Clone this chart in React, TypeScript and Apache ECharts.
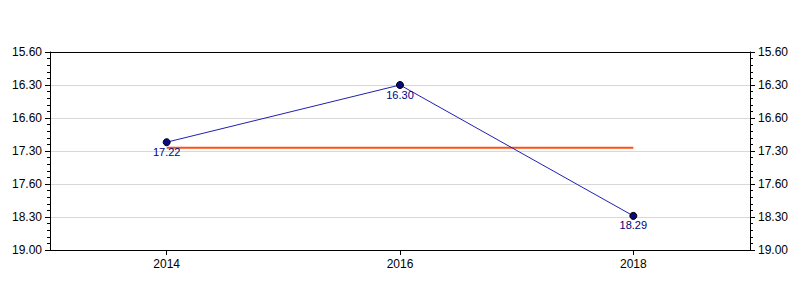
import React, { useEffect, useRef } from "react";
import * as echarts from "echarts";

const categories = ["2014", "2016", "2018"];
// values read as minutes.seconds
const seriesValues = ["17.22", "16.30", "18.29"];
const averageValue = "17.27";
const tickLabels = ["15.60", "16.30", "16.60", "17.30", "17.60", "18.30", "19.00"];
const axisMin = 16;
const axisMax = 19;
const axisInterval = 0.5;

const toMinutes = (s: string) => {
  const [m, sec] = s.split(".");
  return Number(m) + Number(sec) / 60;
};

const fmtTick = (v: number) => {
  const idx = Math.round((v - axisMin) / axisInterval);
  return tickLabels[idx] ?? "";
};

export default function App() {
  const ref = useRef<HTMLDivElement>(null);
  useEffect(() => {
    if (!ref.current) return;
    const chart = echarts.init(ref.current, undefined, { renderer: "svg" });
    const font = "Liberation Sans, Arial, sans-serif";
    const yAxisBase = {
      type: "value" as const,
      inverse: true,
      min: axisMin,
      max: axisMax,
      interval: axisInterval,
      axisLine: { show: true, lineStyle: { color: "#000", width: 1 } },
      axisTick: { show: true, length: 5, lineStyle: { color: "#000" } },
      minorTick: { show: true, splitNumber: 5, length: 3, lineStyle: { color: "#000" } },
      axisLabel: { formatter: fmtTick, color: "#000", fontSize: 12, fontFamily: font, margin: 8 },
    };
    chart.setOption({
      animation: false,
      backgroundColor: "#fff",
      grid: { left: 50, right: 50, top: 52, bottom: 50 },
      xAxis: [
        {
          type: "category",
          data: categories,
          boundaryGap: true,
          axisLine: { show: true, lineStyle: { color: "#000", width: 1 } },
          axisTick: { show: true, alignWithLabel: true, length: 5, lineStyle: { color: "#000" } },
          axisLabel: { color: "#000", fontSize: 12, fontFamily: font, margin: 8 },
          splitLine: { show: false },
        },
        {
          type: "category",
          data: categories,
          position: "top",
          axisLine: { show: true, lineStyle: { color: "#000", width: 1 } },
          axisTick: { show: false },
          axisLabel: { show: false },
          splitLine: { show: false },
        },
      ],
      yAxis: [
        {
          ...yAxisBase,
          position: "left",
          splitLine: { show: true, lineStyle: { color: "#d8d8d8", width: 1 } },
        },
        {
          ...yAxisBase,
          position: "right",
          splitLine: { show: false },
        },
      ],
      series: [
        {
          type: "line",
          data: categories.map(() => toMinutes(averageValue)),
          symbol: "none",
          lineStyle: { color: "#ff5010", width: 2 },
          z: 2,
        },
        {
          type: "line",
          data: seriesValues.map(toMinutes),
          symbol: "circle",
          symbolSize: 7,
          lineStyle: { color: "#2020b0", width: 1 },
          itemStyle: { color: "#0a0a80", borderColor: "#000", borderWidth: 1 },
          label: {
            show: true,
            position: "bottom",
            distance: 0,
            color: "#000080",
            fontSize: 11,
            fontFamily: font,
            formatter: (p: any) => seriesValues[p.dataIndex],
          },
          z: 3,
        },
      ],
    });
    return () => chart.dispose();
  }, []);
  return <div ref={ref} style={{ width: 800, height: 300, margin: -8 }} />;
}
